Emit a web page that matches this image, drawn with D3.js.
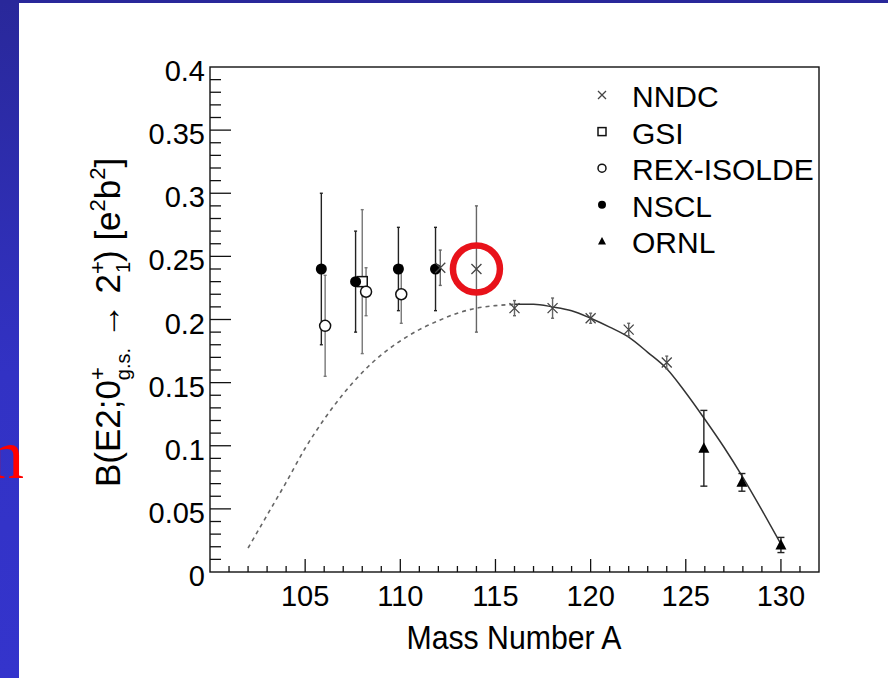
<!DOCTYPE html>
<html>
<head>
<meta charset="utf-8">
<script src="https://cdn.jsdelivr.net/npm/d3@7"></script>
<style>
  body { margin: 0; background: #fff; }
  svg text { font-family: "Liberation Sans", Arial, sans-serif; fill: #000; }
</style>
</head>
<body>
<div id="chart"></div>
<script>
var nndcA = [112.1, 114, 116, 118, 120, 122, 124];
var nndcB = [0.241, 0.240, 0.209, 0.209, 0.201, 0.192, 0.166];
var nndcErr = [0.014, 0.050, 0.006, 0.008, 0.004, 0.005, 0.005];

var gsiA = [108.0];
var gsiB = [0.230];
var gsiErr = [0.057];

var rexA = [106.05, 108.2, 110.05];
var rexB = [0.195, 0.222, 0.220];
var rexErr = [0.040, 0.019, 0.023];

var nsclA = [105.85, 107.65, 109.9, 111.85];
var nsclB = [0.240, 0.230, 0.240, 0.240];
var nsclErr = [0.060, 0.040, 0.033, 0.033];

var ornlA = [125.95, 127.95, 130];
var ornlB = [0.098, 0.071, 0.0214];
var ornlErr = [0.030, 0.007, 0.006];

// fit curve, dashed where extrapolated
var fitDashA = [102, 103, 104, 105, 106, 107, 108, 109, 110, 111, 112, 113, 114, 115, 116];
var fitDashB = [0.019, 0.045, 0.071, 0.098, 0.121, 0.141, 0.158, 0.172, 0.183, 0.192, 0.199, 0.205, 0.209, 0.211, 0.212];
var fitSolidA = [116, 117, 118, 119, 120, 121, 122, 123, 124, 125, 126, 127, 128, 129, 130];
var fitSolidB = [0.212, 0.212, 0.210, 0.207, 0.201, 0.194, 0.186, 0.174, 0.161, 0.142, 0.121, 0.099, 0.075, 0.049, 0.022];

var xTicks = [105, 110, 115, 120, 125, 130];
var yTicks = [0, 0.05, 0.1, 0.15, 0.2, 0.25, 0.3, 0.35, 0.4];
var legendNames = ["NNDC", "GSI", "REX-ISOLDE", "NSCL", "ORNL"];

var W = 888, H = 678;
var frame = {left: 210, top: 67, right: 819, bottom: 572};

var svg = d3.select("#chart").append("svg")
  .attr("width", W)
  .attr("height", H);

var defs = svg.append("defs");
var grad = defs.append("linearGradient")
  .attr("id", "slideBlue")
  .attr("x1", 0).attr("y1", 0).attr("x2", 0).attr("y2", 1);
grad.append("stop").attr("offset", "0%").attr("stop-color", "#29289a");
grad.append("stop").attr("offset", "55%").attr("stop-color", "#3232c4");
grad.append("stop").attr("offset", "100%").attr("stop-color", "#3434cc");

// slide background
svg.append("rect").attr("width", W).attr("height", H).attr("fill", "#fff");
svg.append("rect").attr("x", 0).attr("y", 0).attr("width", 19).attr("height", H).attr("fill", "url(#slideBlue)");
svg.append("rect").attr("x", 0).attr("y", 0).attr("width", W).attr("height", 3).attr("fill", "#29289a");
svg.append("text")
  .attr("x", 24).attr("y", 478)
  .attr("text-anchor", "end")
  .style("font-family", "'Liberation Serif', 'Times New Roman', serif")
  .style("font-size", "70px")
  .style("fill", "#f00")
  .text("n");

var x = d3.scaleLinear().domain([100, 132]).range([frame.left, frame.right]);
var y = d3.scaleLinear().domain([0, 0.4]).range([frame.bottom, frame.top]);

var g = svg.append("g");

// frame
g.append("rect")
  .attr("x", frame.left).attr("y", frame.top)
  .attr("width", frame.right - frame.left)
  .attr("height", frame.bottom - frame.top)
  .attr("fill", "none").attr("stroke", "#111").attr("stroke-width", 1.4);

// ticks point inwards, ROOT style
var xMinor = d3.range(101, 132, 1);
g.selectAll(".xtick").data(xMinor).enter().append("line")
  .attr("x1", function(d) { return x(d); })
  .attr("x2", function(d) { return x(d); })
  .attr("y1", frame.bottom)
  .attr("y2", function(d) { return frame.bottom - (d % 5 === 0 ? 13 : 6); })
  .attr("stroke", "#111").attr("stroke-width", 1.3);

var yMinor = d3.range(0.01, 0.4, 0.01);
g.selectAll(".ytick").data(yMinor).enter().append("line")
  .attr("x1", frame.left)
  .attr("x2", function(d) { return frame.left + (Math.abs(d * 20 - Math.round(d * 20)) < 1e-6 ? 21 : 11); })
  .attr("y1", function(d) { return y(d); })
  .attr("y2", function(d) { return y(d); })
  .attr("stroke", "#111").attr("stroke-width", 1.3);

g.selectAll(".xlab").data(xTicks).enter().append("text")
  .attr("x", function(d) { return x(d); })
  .attr("y", 606)
  .attr("text-anchor", "middle")
  .style("font-size", "29px")
  .text(function(d) { return d; });

g.selectAll(".ylab").data(yTicks).enter().append("text")
  .attr("x", 205)
  .attr("y", function(d) { return y(d) + 14; })
  .attr("text-anchor", "end")
  .style("font-size", "29px")
  .text(function(d) { return d3.format("~g")(d); });

g.append("text")
  .attr("x", 514).attr("y", 649)
  .attr("text-anchor", "middle")
  .attr("textLength", 215)
  .attr("lengthAdjust", "spacingAndGlyphs")
  .style("font-size", "33px")
  .text("Mass Number A");

// y title with stacked sup/sub scripts
var yt = g.append("text")
  .attr("transform", "translate(120,487) rotate(-90)")
  .style("font-size", "35px");
yt.append("tspan").text("B(E2;0");
yt.append("tspan").style("font-size", "22px").attr("dy", -15).text("+");
yt.append("tspan").style("font-size", "20px").attr("dx", -13).attr("dy", 25).text("g.s.");
yt.append("tspan").attr("dy", -10).text(" \u2192 2");
yt.append("tspan").style("font-size", "22px").attr("dy", -15).text("+");
yt.append("tspan").style("font-size", "20px").attr("dx", -12).attr("dy", 25).text("1");
yt.append("tspan").attr("dy", -10).text(") [e");
yt.append("tspan").style("font-size", "22px").attr("dy", -15).text("2");
yt.append("tspan").attr("dy", 15).text("b");
yt.append("tspan").style("font-size", "22px").attr("dy", -15).text("2");
yt.append("tspan").attr("dy", 15).text("]");

// fit curve
var line = d3.line()
  .x(function(d) { return x(d[0]); })
  .y(function(d) { return y(d[1]); })
  .curve(d3.curveMonotoneX);

g.append("path")
  .datum(d3.zip(fitDashA, fitDashB))
  .attr("d", line)
  .attr("fill", "none").attr("stroke", "#666").attr("stroke-width", 1.6)
  .attr("stroke-dasharray", "4,4");

g.append("path")
  .datum(d3.zip(fitSolidA, fitSolidB))
  .attr("d", line)
  .attr("fill", "none").attr("stroke", "#333").attr("stroke-width", 1.5);

function errorBars(A, B, E, color, cap) {
  var pts = d3.zip(A, B, E);
  var eg = g.append("g").attr("stroke", color).attr("stroke-width", 1.4);
  eg.selectAll(".bar").data(pts).enter().append("line")
    .attr("x1", function(d) { return x(d[0]); })
    .attr("x2", function(d) { return x(d[0]); })
    .attr("y1", function(d) { return y(d[1] + d[2]); })
    .attr("y2", function(d) { return y(d[1] - d[2]); });
  [1, -1].forEach(function(s) {
    eg.selectAll(".cap" + s).data(pts).enter().append("line")
      .attr("x1", function(d) { return x(d[0]) - cap; })
      .attr("x2", function(d) { return x(d[0]) + cap; })
      .attr("y1", function(d) { return y(d[1] + s * d[2]); })
      .attr("y2", function(d) { return y(d[1] + s * d[2]); });
  });
}

errorBars(nsclA, nsclB, nsclErr, "#222", 1.5);
errorBars(gsiA, gsiB, gsiErr, "#777", 1.5);
errorBars(rexA, rexB, rexErr, "#777", 1.5);
errorBars(nndcA, nndcB, nndcErr, "#666", 1.5);
errorBars(ornlA, ornlB, ornlErr, "#222", 3.5);

function drawMarker(sel, kind, size) {
  var h = size / 2;
  if (kind === "cross") {
    sel.append("path")
      .attr("d", "M" + (-h) + "," + (-h) + "L" + h + "," + h + "M" + (-h) + "," + h + "L" + h + "," + (-h))
      .attr("stroke", "#444").attr("stroke-width", 1.3).attr("fill", "none");
  } else if (kind === "square") {
    sel.append("rect").attr("x", -h).attr("y", -h).attr("width", size).attr("height", size)
      .attr("fill", "#fff").attr("stroke", "#111").attr("stroke-width", 1.5);
  } else if (kind === "open") {
    sel.append("circle").attr("r", h).attr("fill", "#fff").attr("stroke", "#111").attr("stroke-width", 1.5);
  } else if (kind === "dot") {
    sel.append("circle").attr("r", h).attr("fill", "#000");
  } else {
    sel.append("path")
      .attr("d", "M0," + (-h * 1.1) + "L" + h + "," + (h * 0.8) + "L" + (-h) + "," + (h * 0.8) + "Z")
      .attr("fill", "#000");
  }
}

function points(A, B, kind, size) {
  g.selectAll(null).data(d3.zip(A, B)).enter().append("g")
    .attr("transform", function(d) { return "translate(" + x(d[0]) + "," + y(d[1]) + ")"; })
    .each(function() { drawMarker(d3.select(this), kind, size); });
}

points(gsiA, gsiB, "square", 10);
points(rexA, rexB, "open", 11);
points(nsclA, nsclB, "dot", 11);
points(nndcA, nndcB, "cross", 10);
points(ornlA, ornlB, "triangle", 11);

// highlight ring round the A=114 NNDC point
g.append("circle")
  .attr("cx", x(nndcA[1])).attr("cy", y(nndcB[1]))
  .attr("r", 23.5)
  .attr("fill", "none").attr("stroke", "#e8121a").attr("stroke-width", 6.5);

// legend
var kinds = ["cross", "square", "open", "dot", "triangle"];
var leg = g.selectAll(".leg").data(legendNames).enter().append("g")
  .attr("transform", function(d, i) { return "translate(602," + (107 + i * 36.6) + ")"; });
leg.append("g")
  .attr("transform", "translate(0,-12)")
  .each(function(d, i) { drawMarker(d3.select(this), kinds[i], 8); });
leg.append("text")
  .attr("x", 30)
  .style("font-size", "30px")
  .text(function(d) { return d; });
</script>
</body>
</html>
